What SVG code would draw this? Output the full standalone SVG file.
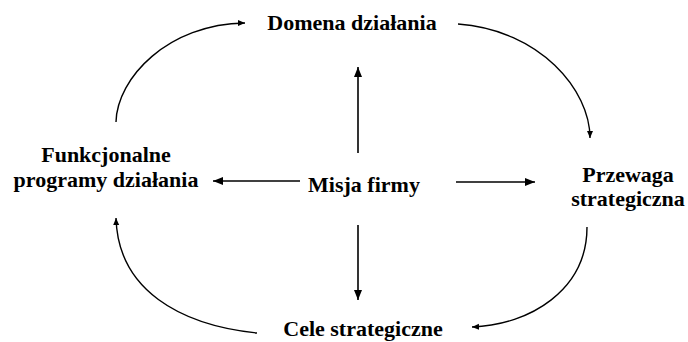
<svg xmlns="http://www.w3.org/2000/svg" width="688" height="342" viewBox="0 0 688 342">
<defs>
<style>
.lbl{font-family:"Liberation Serif","Times New Roman",serif;font-weight:bold;font-size:22px;fill:#000;text-anchor:middle}
.ln{fill:none;stroke:#000;stroke-width:1.6}
.arc{fill:none;stroke:#000;stroke-width:1.4}
</style>
<marker id="ah" markerUnits="userSpaceOnUse" markerWidth="11" markerHeight="9" refX="10" refY="4" orient="auto">
<path d="M0,0 L10,4 L0,8 z" fill="#000"/>
</marker>
<marker id="ahs" markerUnits="userSpaceOnUse" markerWidth="8" markerHeight="7" refX="7" refY="3" orient="auto">
<path d="M0,0 L7,3 L0,6 z" fill="#000"/>
</marker>
</defs>
<rect width="688" height="342" fill="#fff"/>
<g id="connectors">
<path class="ln" d="M358,153 L358,67" marker-end="url(#ah)"/>
<path class="ln" d="M358,225 L358,300" marker-end="url(#ah)"/>
<path class="ln" d="M300,181 L213,181" marker-end="url(#ah)"/>
<path class="ln" d="M456,182 L535,182" marker-end="url(#ah)"/>
<path class="arc" d="M116,122 C117,78 168,24 245,23" marker-end="url(#ahs)"/>
<path class="arc" d="M458,24 C540,30 590,90 590,138" marker-end="url(#ahs)"/>
<path class="arc" d="M587,227 C587,290 530,325 472,327" marker-end="url(#ahs)"/>
<path class="arc" d="M257,333 C180,325 118,290 116,218" marker-end="url(#ahs)"/>
</g>
<g id="domena"><text class="lbl" x="352" y="30">Domena działania</text></g>
<g id="funkcjonalne"><text class="lbl" x="106" y="162">Funkcjonalne</text><text class="lbl" x="106" y="187">programy działania</text></g>
<g id="misja"><text class="lbl" x="364" y="192">Misja firmy</text></g>
<g id="przewaga"><text class="lbl" x="628" y="182">Przewaga</text><text class="lbl" x="628" y="206">strategiczna</text></g>
<g id="cele"><text class="lbl" x="363" y="336">Cele strategiczne</text></g>
</svg>
